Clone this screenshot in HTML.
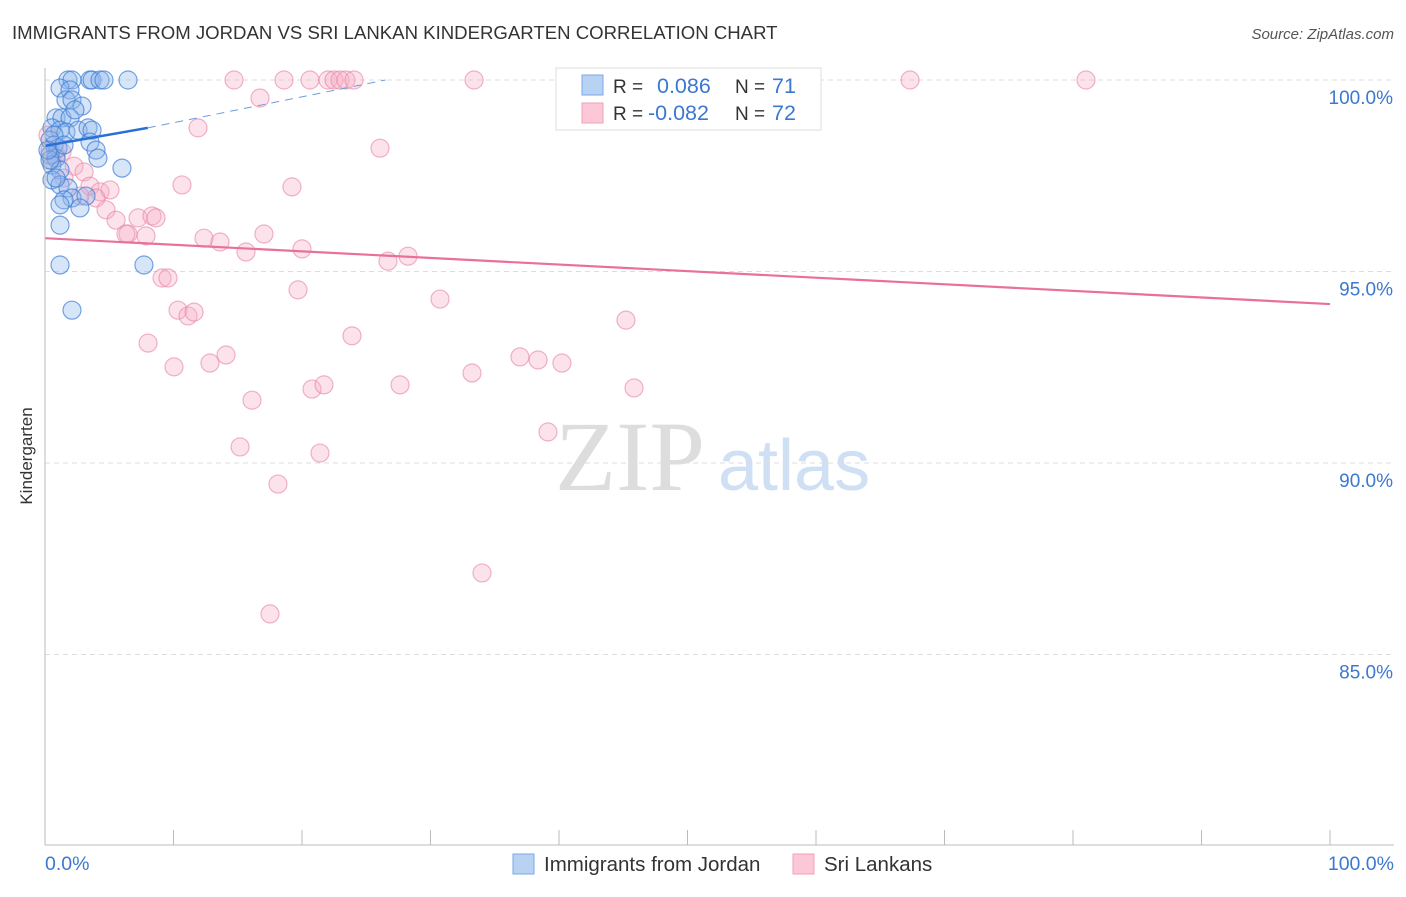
<!DOCTYPE html>
<html><head><meta charset="utf-8"><style>
body{margin:0;background:#fff;font-family:"Liberation Sans",sans-serif;}
</style></head><body>
<svg id="c" width="1406" height="892" xmlns="http://www.w3.org/2000/svg">
<text x="12" y="39" font-size="18.6" fill="#333">IMMIGRANTS FROM JORDAN VS SRI LANKAN KINDERGARTEN CORRELATION CHART</text>
<text x="1394" y="39" font-size="15" fill="#555" text-anchor="end" font-style="italic">Source: ZipAtlas.com</text>
<text x="32" y="456" font-size="17" fill="#333" transform="rotate(-90 32 456)" text-anchor="middle">Kindergarten</text>
<text x="555" y="490" font-size="100" fill="#ddd" font-family="Liberation Serif,serif">ZIP</text>
<text x="718" y="490" font-size="72" fill="#cfe0f5">atlas</text>
<g id="grid"></g><g id="pts"></g><g id="lines"></g>
<line x1="45" y1="68" x2="45" y2="845" stroke="#bbb"/>
<line x1="45" y1="845" x2="1394" y2="845" stroke="#bbb"/>
<text x="45" y="870" font-size="19.5" fill="#3b78d0">0.0%</text>
<text x="1394" y="870" font-size="19.5" fill="#3b78d0" text-anchor="end">100.0%</text>
<g>
<rect x="556" y="68" width="265" height="62" fill="#fff" stroke="#ddd"/>
<rect x="582" y="75" width="21" height="20" fill="#b8d2f4" stroke="#7aa8e6"/>
<rect x="582" y="103" width="21" height="20" fill="#fcc8d8" stroke="#f0a0b8"/>
<text x="613" y="93" font-size="19" fill="#333">R =</text><text x="657" y="93" font-size="21.5" fill="#3b78d0">0.086</text>
<text x="735" y="93" font-size="19" fill="#333">N =</text><text x="772" y="93" font-size="21.5" fill="#3b78d0">71</text>
<text x="613" y="120" font-size="19" fill="#333">R =</text><text x="648" y="120" font-size="21.5" fill="#3b78d0">-0.082</text>
<text x="735" y="120" font-size="19" fill="#333">N =</text><text x="772" y="120" font-size="21.5" fill="#3b78d0">72</text>
</g>
<g>
<rect x="513" y="854" width="21" height="20" fill="#b8d2f4" stroke="#7aa8e6"/>
<text x="544" y="871" font-size="20.5" fill="#333">Immigrants from Jordan</text>
<rect x="793" y="854" width="21" height="20" fill="#fcc8d8" stroke="#f0a0b8"/>
<text x="824" y="871" font-size="20.5" fill="#333">Sri Lankans</text>
</g>
</svg>
<script>
const yTicks=[100,95,90,85];
const xTickCount=11;
const bluePx=[[68,80],[72,80],[90,80],[92,80],[100,80],[104,80],[128,80],[60,88],[70,90],[66,100],[72,100],[82,106],[56,118],[62,118],[70,118],[52,128],[60,130],[66,132],[78,130],[88,128],[92,130],[50,140],[54,145],[58,148],[50,155],[56,158],[52,165],[60,170],[90,142],[96,150],[98,158],[122,168],[52,180],[60,185],[68,188],[56,178],[72,198],[64,200],[60,205],[86,196],[80,208],[60,225],[60,265],[144,265],[72,310],[50,160],[48,150],[54,135],[75,110],[64,145]];
const pinkPx=[[50,150],[56,155],[62,152],[74,166],[84,172],[90,186],[100,192],[96,198],[110,190],[106,210],[116,220],[128,234],[138,218],[126,234],[152,216],[156,218],[146,236],[162,278],[168,278],[182,185],[198,128],[178,310],[188,316],[194,312],[148,343],[174,367],[210,363],[204,238],[220,242],[226,355],[234,80],[260,98],[246,252],[264,234],[252,400],[240,447],[278,484],[270,614],[284,80],[292,187],[298,290],[302,249],[310,80],[312,389],[324,385],[320,453],[328,80],[334,80],[340,80],[346,80],[354,80],[352,336],[380,148],[388,261],[400,385],[408,256],[440,299],[474,80],[472,373],[482,573],[520,357],[538,360],[548,432],[562,363],[576,80],[626,320],[634,388],[910,80],[1086,80],[48,135],[52,160],[64,178],[80,196]];
const blueX=bluePx.map(p=>+((p[0]-45)/12.85).toFixed(2));
const blueY=bluePx.map(p=>+(100-(p[1]-80)/38.3).toFixed(2));
const pinkX=pinkPx.map(p=>+((p[0]-45)/12.85).toFixed(2));
const pinkY=pinkPx.map(p=>+(100-(p[1]-80)/38.3).toFixed(2));
const blueTrend=[98.28,98.75,100];const blueTrendX=[0,8,26.5];
const pinkTrend=[95.87,94.15];
const sx=v=>45+v*12.85, sy=v=>80+(100-v)*38.3;
const NS="http://www.w3.org/2000/svg";
function mk(t,a,parent){const e=document.createElementNS(NS,t);for(const k in a)e.setAttribute(k,a[k]);document.getElementById(parent).appendChild(e);return e;}
yTicks.forEach(t=>{
 const l=mk('line',{x1:45,x2:1394,y1:sy(t),y2:sy(t),stroke:'#ddd','stroke-dasharray':'5,4'},'grid');
 
 
 const tx=mk('text',{x:1393,y:sy(t)+24,'font-size':19,fill:'#3b78d0','text-anchor':'end'},'grid');
 tx.textContent=t.toFixed(1)+'%';
 
 
});
for(let i=0;i<xTickCount;i++){const x=45+i*128.5;const l=mk('line',{x1:x,x2:x,y1:830,y2:845,stroke:'#bbb'},'grid');
 
 }
pinkX.forEach((x,i)=>{const c=mk('circle',{cx:sx(x),cy:sy(pinkY[i]),r:9,fill:'rgba(247,175,198,0.35)',stroke:'rgba(232,130,162,0.6)','stroke-width':1.2},'pts');
 
 });
blueX.forEach((x,i)=>{const c=mk('circle',{cx:sx(x),cy:sy(blueY[i]),r:9,fill:'rgba(140,180,235,0.35)',stroke:'rgba(60,125,215,0.7)','stroke-width':1.2},'pts');
 
 });
let l=mk('line',{x1:sx(blueTrendX[0]),y1:sy(blueTrend[0]),x2:sx(blueTrendX[1]),y2:sy(blueTrend[1]),stroke:'#2a6fd6','stroke-width':2.5},'lines');


l=mk('line',{x1:sx(blueTrendX[1]),y1:sy(blueTrend[1]),x2:sx(blueTrendX[2]),y2:sy(blueTrend[2]),stroke:'#6a9ee0','stroke-width':1,'stroke-dasharray':'8,6'},'lines');


l=mk('line',{x1:sx(0),y1:sy(pinkTrend[0]),x2:sx(100),y2:sy(pinkTrend[1]),stroke:'#e8709a','stroke-width':2.2},'lines');


</script>
</body></html>
